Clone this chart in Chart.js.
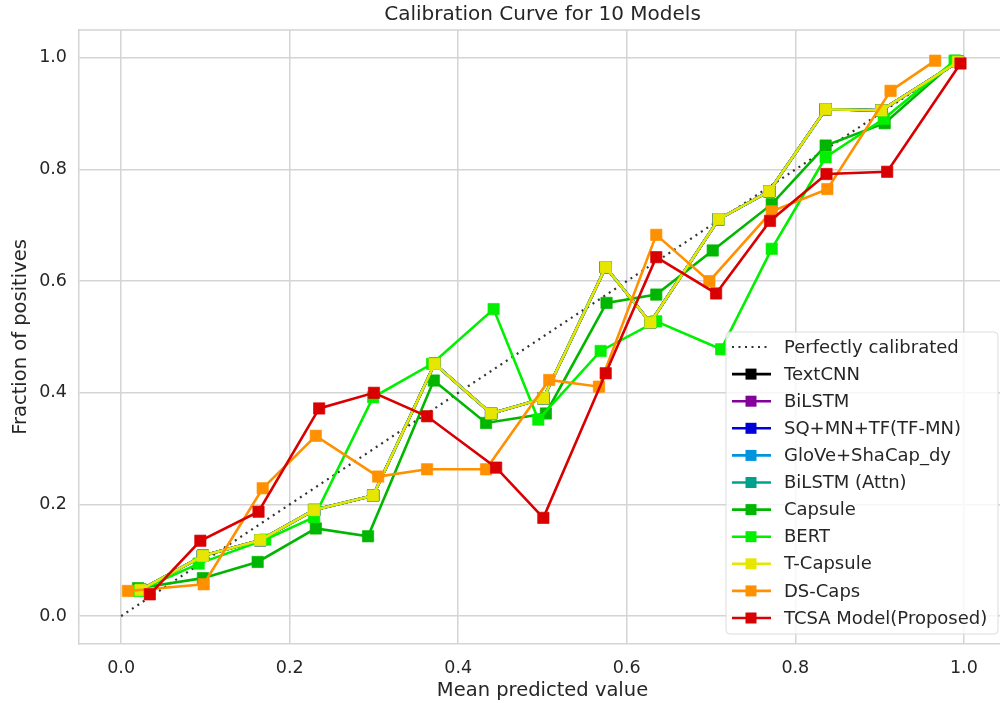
<!DOCTYPE html>
<html>
<head>
<meta charset="utf-8">
<script src="https://cdn.jsdelivr.net/npm/chart.js@4/dist/chart.umd.min.js"></script>
<style>
  html, body { margin: 0; padding: 0; background: #fff; overflow: hidden; }
  #wrap { width: 1016px; height: 703px; }
</style>
</head>
<body>
<div id="wrap"><canvas id="cal" width="1016" height="703" style="width:1016px;height:703px"></canvas></div>
<script>
const TITLE = "Calibration Curve for 10 Models";
const X_TICKS = [0, 0.2, 0.4, 0.6, 0.8, 1.0];
const Y_TICKS = [0, 0.2, 0.4, 0.6, 0.8, 1.0];

const perfectX = [0, 1];
const perfectY = [0, 1];

// visible curves
const capsuleX = [0.020, 0.097, 0.162, 0.231, 0.293, 0.371, 0.433, 0.504, 0.576, 0.635, 0.702, 0.772, 0.836, 0.906, 0.990];
const capsuleY = [0.050, 0.068, 0.097, 0.157, 0.143, 0.422, 0.346, 0.363, 0.561, 0.576, 0.655, 0.738, 0.843, 0.883, 0.995];

const bertX = [0.020, 0.092, 0.171, 0.229, 0.299, 0.369, 0.442, 0.495, 0.569, 0.635, 0.712, 0.772, 0.836, 0.905, 0.989];
const bertY = [0.045, 0.094, 0.137, 0.177, 0.392, 0.452, 0.550, 0.352, 0.475, 0.528, 0.478, 0.658, 0.822, 0.891, 0.995];

const tcapX = [0.023, 0.097, 0.165, 0.229, 0.299, 0.372, 0.439, 0.501, 0.575, 0.628, 0.709, 0.769, 0.836, 0.902, 0.993];
const tcapY = [0.047, 0.108, 0.136, 0.190, 0.216, 0.452, 0.363, 0.390, 0.625, 0.526, 0.711, 0.761, 0.908, 0.906, 0.993];

const dscapsX = [0.008, 0.098, 0.168, 0.231, 0.305, 0.363, 0.433, 0.508, 0.567, 0.635, 0.698, 0.772, 0.838, 0.913, 0.966];
const dscapsY = [0.045, 0.057, 0.229, 0.323, 0.250, 0.263, 0.263, 0.423, 0.411, 0.683, 0.600, 0.725, 0.765, 0.941, 0.995];

const tcsaX = [0.034, 0.094, 0.163, 0.235, 0.300, 0.363, 0.445, 0.501, 0.575, 0.635, 0.706, 0.770, 0.837, 0.909, 0.996];
const tcsaY = [0.039, 0.135, 0.187, 0.372, 0.400, 0.358, 0.266, 0.176, 0.435, 0.643, 0.578, 0.708, 0.792, 0.796, 0.990];

// these five are hidden under the yellow curve in the picture
const MODELS = ["TextCNN", "BiLSTM", "SQ+MN+TF(TF-MN)", "GloVe+ShaCap_dy", "BiLSTM (Attn)",
                "Capsule", "BERT", "T-Capsule", "DS-Caps", "TCSA Model(Proposed)"];
const MODEL_X = [tcapX, tcapX, tcapX, tcapX, tcapX, capsuleX, bertX, tcapX, dscapsX, tcsaX];
const MODEL_Y = [tcapY, tcapY, tcapY, tcapY, tcapY, capsuleY, bertY, tcapY, dscapsY, tcsaY];
const COLORS = ["#000000", "#84009a", "#0000d8", "#0094dd", "#00a08e",
                "#00b600", "#00f000", "#e6e600", "#ff9000", "#d80000"];

const FONT = "'DejaVu Sans', sans-serif";
const TEXT = "#262626";
const GRID = "#d4d4d4";

function pts(xs, ys) { return xs.map((x, i) => ({ x, y: ys[i] })); }

const datasets = [{
  label: "Perfectly calibrated",
  data: pts(perfectX, perfectY),
  borderColor: "#333333",
  borderWidth: 2.2,
  borderDash: [2, 4.5],
  pointRadius: 0,
  order: 100
}];
MODELS.forEach((m, i) => {
  datasets.push({
    label: m,
    data: pts(MODEL_X[i], MODEL_Y[i]),
    borderColor: COLORS[i],
    backgroundColor: COLORS[i],
    borderWidth: 2.6,
    pointStyle: "rect",
    pointRadius: 8,
    pointBorderWidth: 1,
    pointBorderColor: COLORS[i] + "aa",
    pointBackgroundColor: COLORS[i],
    order: 20 - i
  });
});

const frameAndText = {
  id: "frameAndText",
  afterDraw(chart) {
    const { ctx, chartArea: a } = chart;
    ctx.save();
    // top/right spines
    ctx.strokeStyle = GRID;
    ctx.lineWidth = 1.5;
    ctx.beginPath();
    ctx.moveTo(a.left, a.top); ctx.lineTo(a.right, a.top); ctx.lineTo(a.right, a.bottom);
    ctx.stroke();
    // title
    ctx.fillStyle = TEXT;
    ctx.font = "20px " + FONT;
    ctx.textAlign = "center";
    ctx.textBaseline = "middle";
    ctx.fillText(TITLE, (a.left + a.right) / 2, 15);

    // legend
    const bx = 726, by = 332, bw = 272, bh = 302, r = 4;
    ctx.beginPath();
    ctx.moveTo(bx + r, by);
    ctx.arcTo(bx + bw, by, bx + bw, by + bh, r);
    ctx.arcTo(bx + bw, by + bh, bx, by + bh, r);
    ctx.arcTo(bx, by + bh, bx, by, r);
    ctx.arcTo(bx, by, bx + bw, by, r);
    ctx.closePath();
    ctx.fillStyle = "rgba(255,255,255,0.82)";
    ctx.fill();
    ctx.strokeStyle = "#dcdcdc";
    ctx.lineWidth = 1;
    ctx.stroke();

    ctx.font = "18px " + FONT;
    ctx.textAlign = "left";
    chart.data.datasets.forEach((ds, i) => {
      const y = 347 + i * 27.1;
      ctx.strokeStyle = ds.borderColor;
      ctx.lineWidth = i === 0 ? 2.2 : 2.6;
      ctx.setLineDash(i === 0 ? [2, 4.5] : []);
      ctx.beginPath();
      ctx.moveTo(732, y); ctx.lineTo(771, y);
      ctx.stroke();
      ctx.setLineDash([]);
      if (i > 0) {
        ctx.fillStyle = ds.backgroundColor;
        ctx.fillRect(745.5, y - 5.5, 11, 11);
      }
      ctx.fillStyle = TEXT;
      ctx.fillText(ds.label, 784, y + 1);
    });
    ctx.restore();
  }
};

new Chart(document.getElementById("cal"), {
  type: "line",
  data: { datasets },
  options: {
    responsive: false,
    animation: false,
    layout: { padding: { top: 30, right: 10, left: 0, bottom: 0 } },
    plugins: { legend: { display: false }, title: { display: false }, tooltip: { enabled: false } },
    scales: {
      x: {
        type: "linear",
        min: -0.05, max: 1.05,
        afterBuildTicks: s => { s.ticks = X_TICKS.map(v => ({ value: v })); },
        afterFit: s => { s.height = 59; },
        grid: { color: GRID, lineWidth: 1.5, drawTicks: false },
        border: { color: GRID, width: 1.5 },
        ticks: { color: TEXT, font: { family: FONT, size: 17.5 }, padding: 14, callback: v => v.toFixed(1) },
        title: { display: true, text: "Mean predicted value", color: TEXT, font: { family: FONT, size: 19.5 }, padding: { top: 0, bottom: 0 } }
      },
      y: {
        type: "linear",
        min: -0.05, max: 1.05,
        afterBuildTicks: s => { s.ticks = Y_TICKS.map(v => ({ value: v })); },
        afterFit: s => { s.width = 79; },
        grid: { color: GRID, lineWidth: 1.5, drawTicks: false },
        border: { color: GRID, width: 1.5 },
        ticks: { color: TEXT, font: { family: FONT, size: 17.5 }, padding: 12, callback: v => v.toFixed(1) },
        title: { display: true, text: "Fraction of positives", color: TEXT, font: { family: FONT, size: 19.5 }, padding: { top: 9, bottom: 0 } }
      }
    }
  },
  plugins: [frameAndText]
});
</script>
</body>
</html>
